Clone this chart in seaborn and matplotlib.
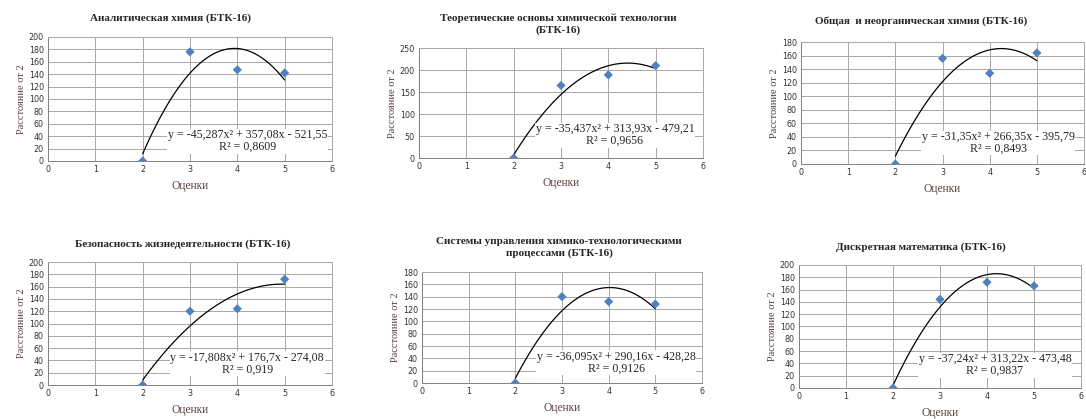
import numpy as np
import pandas as pd
import seaborn as sns
import matplotlib.pyplot as plt

sns.set_style('white')

# данные по шести дисциплинам
titles = [
    'Аналитическая химия (БТК-16)',
    'Теоретические основы химической технологии\n(БТК-16)',
    'Общая  и неорганическая химия (БТК-16)',
    'Безопасность жизнедеятельности (БТК-16)',
    'Системы управления химико-технологическими\nпроцессами (БТК-16)',
    'Дискретная математика (БТК-16)',
]
grades = [2, 3, 4, 5]
dist_1 = [0, 176, 147, 142]
dist_2 = [0, 165, 189, 210]
dist_3 = [0, 156, 134, 164]
dist_4 = [0, 120, 124, 172]
dist_5 = [0, 140, 132, 128]
dist_6 = [0, 144, 172, 166]
equations = [
    'y = -45,287x² + 357,08x - 521,55\nR² = 0,8609',
    'y = -35,437x² + 313,93x - 479,21\nR² = 0,9656',
    'y = -31,35x² + 266,35x - 395,79\nR² = 0,8493',
    'y = -17,808x² + 176,7x - 274,08\nR² = 0,919',
    'y = -36,095x² + 290,16x - 428,28\nR² = 0,9126',
    'y = -37,24x² + 313,22x - 473,48\nR² = 0,9837',
]
y_max = [200, 250, 180, 200, 180, 200]
y_step = [20, 50, 20, 20, 20, 20]

all_dist = [dist_1, dist_2, dist_3, dist_4, dist_5, dist_6]

# положение осей на рисунке [left, bottom, width, height]
boxes = [
    [0.0442, 0.6158, 0.2615, 0.2960],
    [0.3858, 0.6229, 0.2615, 0.2625],
    [0.7376, 0.6086, 0.2606, 0.2910],
    [0.0442, 0.0811, 0.2615, 0.2936],
    [0.3886, 0.0859, 0.2578, 0.2649],
    [0.7357, 0.0740, 0.2597, 0.2936],
]
title_x = [0.433, 0.49, 0.426, 0.476, 0.49, 0.434]
title_pad = [12, 11, 13, 11, 12, 11]
eq_pos = [(4.22, 32), (4.14, 52), (4.18, 31), (4.21, 35), (4.16, 33), (4.17, 37)]

serif = 'Liberation Serif'
label_col = '#5a4040'

fig = plt.figure(figsize=(10.86, 4.19), dpi=100)

for i in range(6):
    ax = fig.add_axes(boxes[i])
    df = pd.DataFrame({'x': grades, 'y': all_dist[i]})
    sns.regplot(data=df, x='x', y='y', order=2, ci=None, scatter=False,
                truncate=True, ax=ax, line_kws={'color': 'black', 'lw': 0.9})
    sns.scatterplot(data=df, x='x', y='y', marker='D', s=22, color='#4f81bd',
                    edgecolor='none', ax=ax, zorder=4)
    ax.set_xlim(0, 6)
    ax.set_ylim(0, y_max[i])
    ax.set_xticks(range(0, 7))
    ax.set_yticks(np.arange(0, y_max[i] + 1, y_step[i]))
    ax.grid(True, color='#a8a8a8', lw=0.7)
    ax.set_axisbelow(True)
    for s in ax.spines.values():
        s.set_color('#a8a8a8')
        s.set_linewidth(0.7)
    ax.spines['left'].set_color('#808080')
    ax.spines['bottom'].set_color('#808080')
    ax.tick_params(labelsize=5.8, length=0, pad=3, colors='#333333')
    ax.set_xlabel('Оценки', fontsize=8.3, family=serif, color=label_col, labelpad=4)
    ax.set_ylabel('Расстояние от 2', fontsize=7.5, family=serif, color=label_col, labelpad=2)
    ax.set_title(titles[i], fontsize=8, family=serif, fontweight='bold',
                 pad=title_pad[i], linespacing=1.3, x=title_x[i])
    ex, ey = eq_pos[i]
    ax.text(ex, ey, equations[i], fontsize=8.6, family=serif, ha='center', va='center',
            multialignment='center', linespacing=0.95, zorder=5,
            bbox=dict(facecolor='white', edgecolor='none', pad=0.5))

fig.savefig('out.png', dpi=100)
